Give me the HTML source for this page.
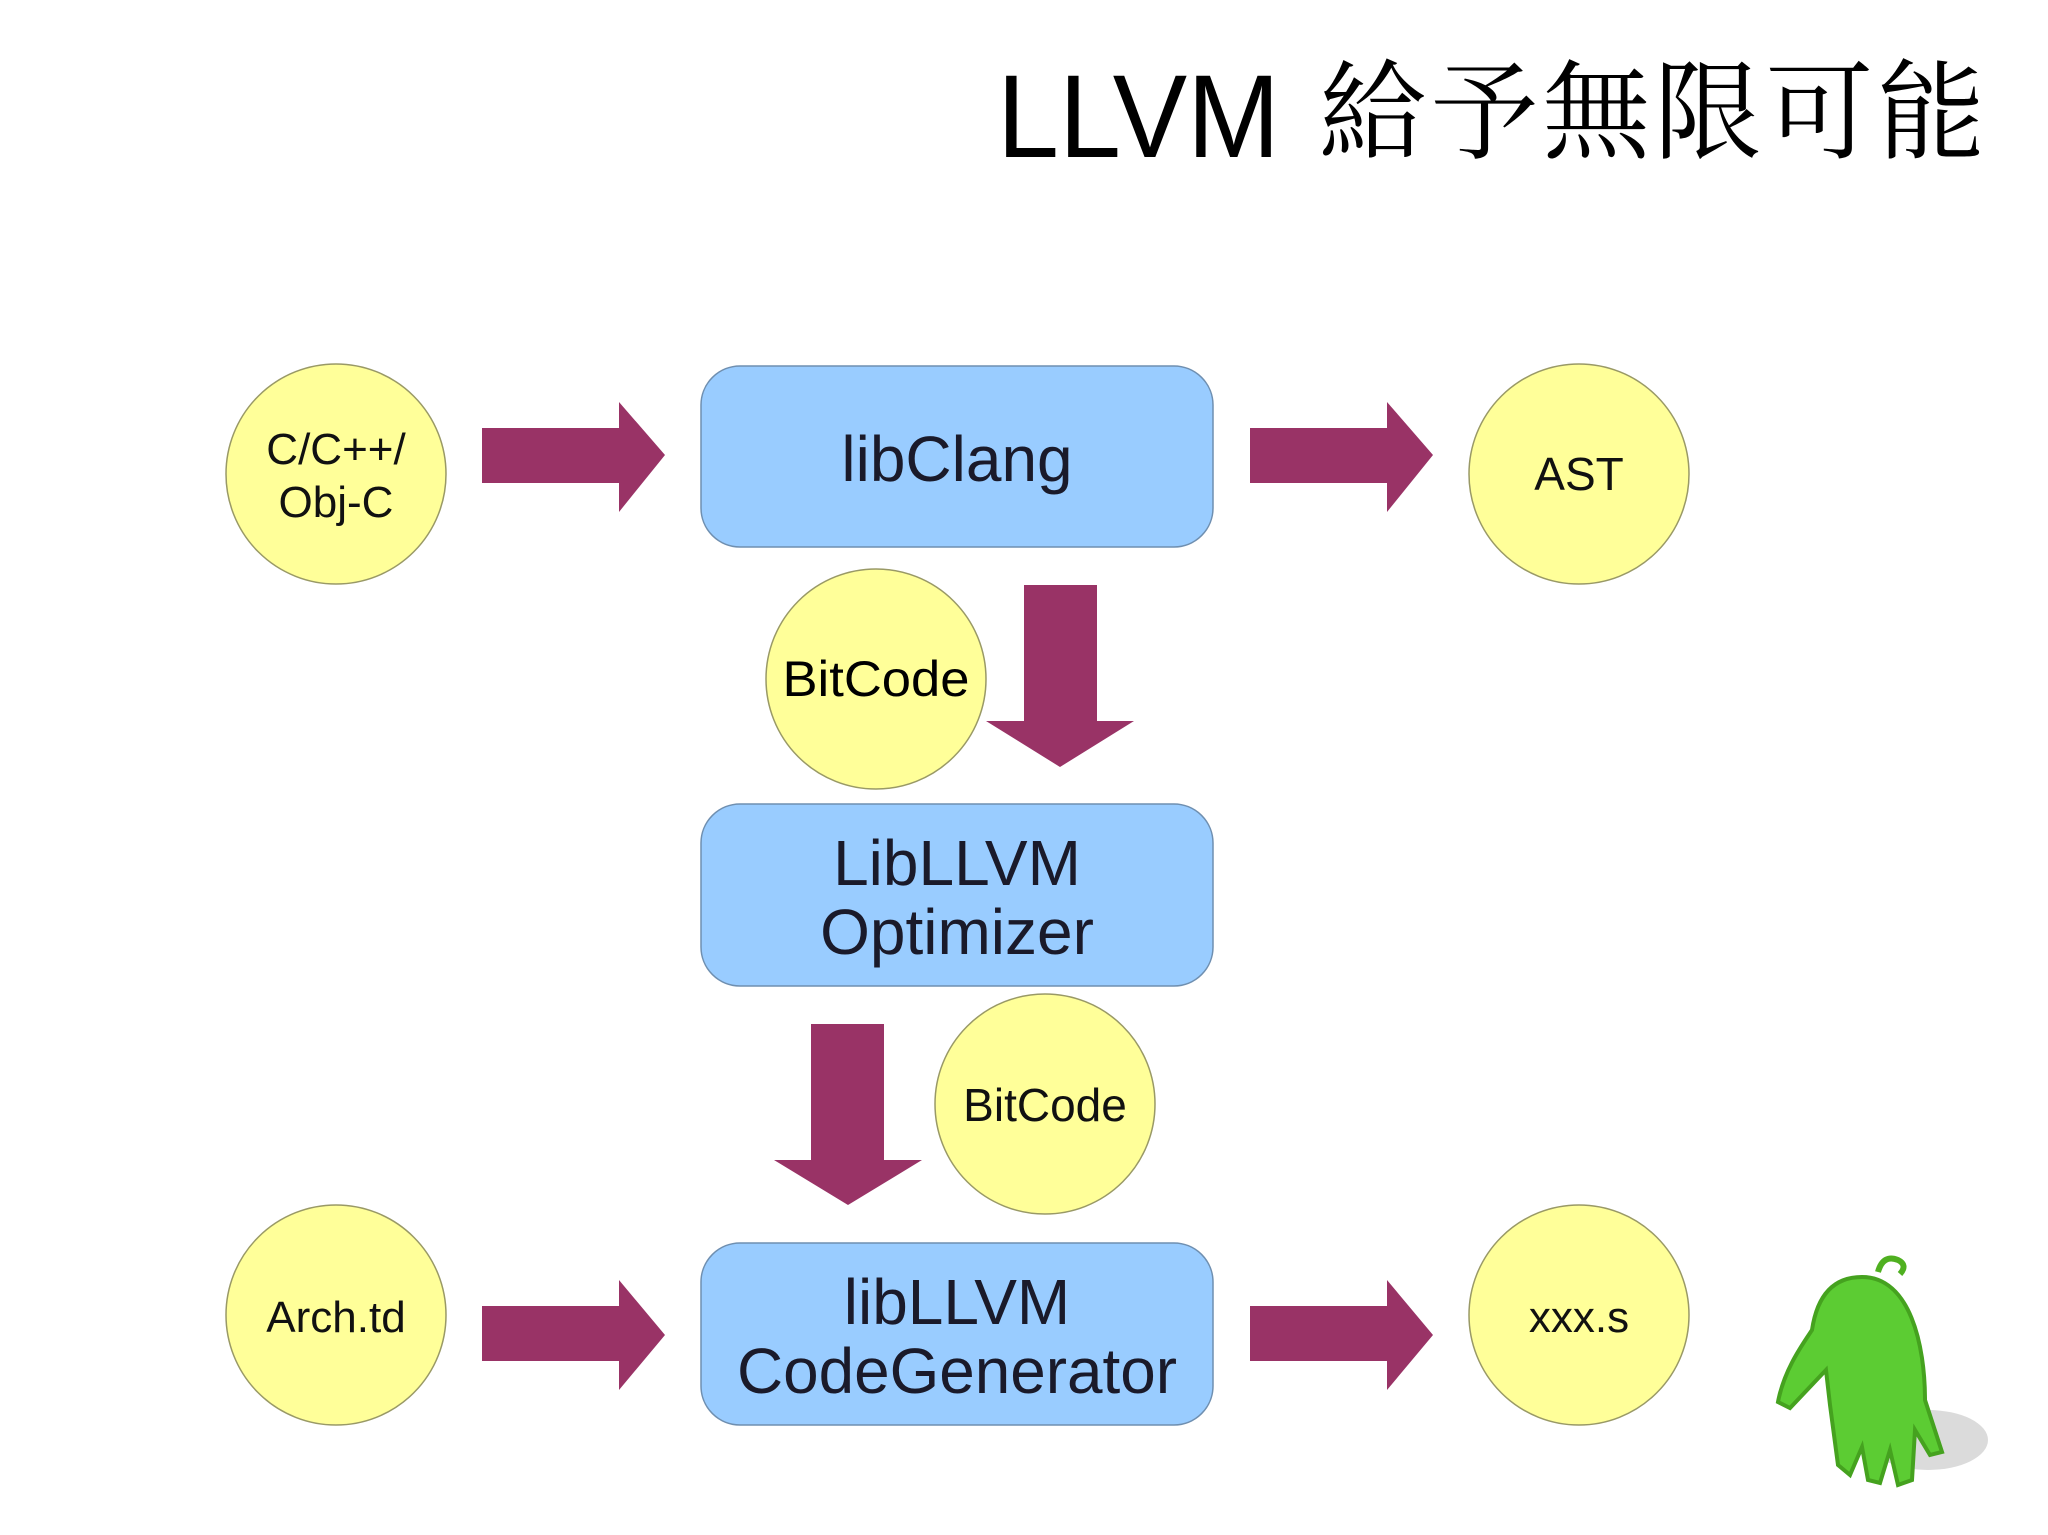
<!DOCTYPE html>
<html><head><meta charset="utf-8"><style>html,body{margin:0;padding:0;background:#fff}svg{display:block}</style></head>
<body>
<svg width="2048" height="1535" viewBox="0 0 2048 1535" xmlns="http://www.w3.org/2000/svg">
<rect width="2048" height="1535" fill="#fff"/>
<!-- title -->
<text x="997" y="157" font-family="Liberation Sans, sans-serif" font-size="118" textLength="283" lengthAdjust="spacingAndGlyphs" fill="#000">LLVM</text>
<text x="1319" y="150" font-family="Noto Serif CJK SC, Noto Serif CJK TC, serif" font-size="108" textLength="666" lengthAdjust="spacing" fill="#000">給予無限可能</text>

<g fill="#993366">
<polygon points="482,428 619,428 619,402 665,455 619,512 619,483 482,483"/>
<polygon points="1250,428 1387,428 1387,402 1433,455 1387,512 1387,483 1250,483"/>
<polygon points="482,1306 619,1306 619,1280 665,1335 619,1390 619,1361 482,1361"/>
<polygon points="1250,1306 1387,1306 1387,1280 1433,1335 1387,1390 1387,1361 1250,1361"/>
<polygon points="1024,585 1097,585 1097,721 1134,721 1060,767 986,721 1024,721"/>
<polygon points="811,1024 884,1024 884,1160 922,1160 848,1205 774,1160 811,1160"/>
</g>

<g fill="#99ccff" stroke="#6f8fb0" stroke-width="1.5">
<rect x="701" y="366" width="512" height="181" rx="39"/>
<rect x="701" y="804" width="512" height="182" rx="39"/>
<rect x="701" y="1243" width="512" height="182" rx="39"/>
</g>

<g fill="#ffff99" stroke="#999966" stroke-width="1.5">
<circle cx="336" cy="474" r="110"/>
<circle cx="1579" cy="474" r="110"/>
<circle cx="876" cy="679" r="110"/>
<circle cx="1045" cy="1104" r="110"/>
<circle cx="336" cy="1315" r="110"/>
<circle cx="1579" cy="1315" r="110"/>
</g>

<g font-family="Liberation Sans, sans-serif" fill="#111" text-anchor="middle">
<text x="336" y="464" font-size="44">C/C++/</text>
<text x="336" y="517" font-size="44">Obj-C</text>
<text x="1579" y="490" font-size="46">AST</text>
<text x="876" y="696" font-size="50" fill="#000" textLength="187" lengthAdjust="spacingAndGlyphs">BitCode</text>
<text x="1045" y="1121" font-size="46">BitCode</text>
<text x="336" y="1332" font-size="44">Arch.td</text>
<text x="1579" y="1332" font-size="44">xxx.s</text>
<g font-size="64" fill="#1a1a2a">
<text x="957" y="481">libClang</text>
<text x="957" y="885">LibLLVM</text>
<text x="957" y="954">Optimizer</text>
<text x="957" y="1324">libLLVM</text>
<text x="957" y="1393" textLength="440" lengthAdjust="spacingAndGlyphs">CodeGenerator</text>
</g>
</g>

<!-- mascot -->
<ellipse cx="1928" cy="1440" rx="60" ry="30" fill="#ccc" opacity="0.7"/>
<path d="M1878,1272 q5,-18 20,-12 q10,5 2,14" fill="none" stroke="#4fb020" stroke-width="6"/>
<path d="M1862,1277 C1910,1277 1925,1345 1925,1400 L1942,1452 L1930,1455 L1915,1430 L1912,1480 L1898,1485 L1890,1450 L1880,1483 L1868,1480 L1862,1447 L1850,1475 L1838,1465 L1830,1405 L1826,1370 L1790,1408 L1778,1402 C1784,1370 1802,1345 1812,1330 C1818,1290 1838,1277 1862,1277 Z" fill="#5ccc33" stroke="#45a21f" stroke-width="4"/>
</svg>
</body></html>
